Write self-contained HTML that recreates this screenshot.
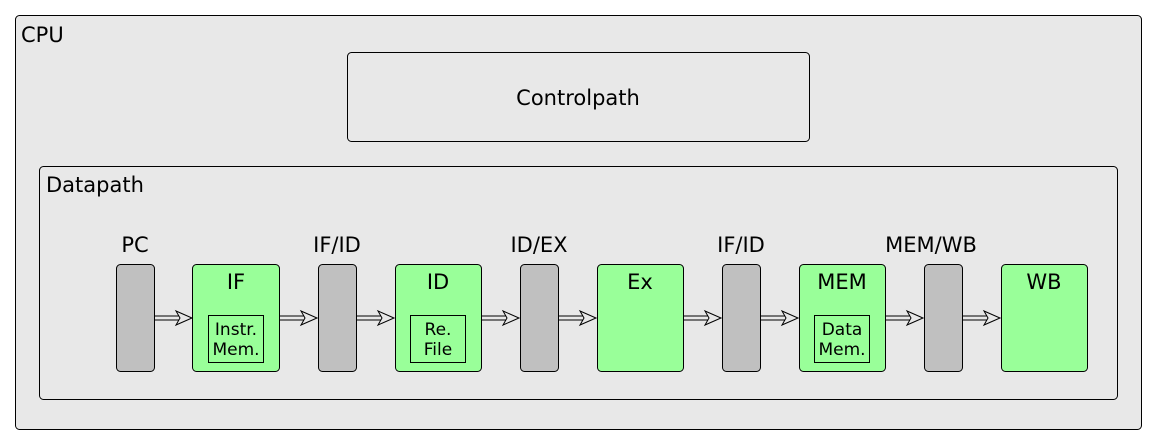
<!DOCTYPE html>
<html><head><meta charset="utf-8"><style>
html,body{margin:0;padding:0;background:#fff;}
svg{display:block;font-family:"DejaVu Sans","Liberation Sans",sans-serif;}
</style></head><body>
<svg width="1159" height="446" viewBox="0 0 1159 446" xmlns="http://www.w3.org/2000/svg">
<rect x="15.5" y="15.5" width="1126" height="414" rx="4" fill="#e8e8e8" stroke="#000"/>
<text x="21" y="42" font-size="21">CPU</text>
<rect x="347.5" y="52.5" width="462" height="89" rx="4" fill="#e8e8e8" stroke="#000"/>
<text x="578" y="105" font-size="21" text-anchor="middle">Controlpath</text>
<rect x="39.5" y="166.5" width="1078" height="233" rx="4" fill="#e8e8e8" stroke="#000"/>
<text x="46" y="192" font-size="21">Datapath</text>
<g font-size="21" text-anchor="middle">
<text x="135" y="252">PC</text>
<text x="337" y="252">IF/ID</text>
<text x="539" y="252">ID/EX</text>
<text x="741" y="252">IF/ID</text>
<text x="931" y="252">MEM/WB</text>
</g>
<g fill="#c0c0c0" stroke="#000">
<rect x="116.5" y="264.5" width="38" height="107" rx="4"/>
<rect x="318.5" y="264.5" width="38" height="107" rx="4"/>
<rect x="520.5" y="264.5" width="38" height="107" rx="4"/>
<rect x="722.5" y="264.5" width="38" height="107" rx="4"/>
<rect x="924.5" y="264.5" width="38" height="107" rx="4"/>
</g>
<g fill="#99ff99" stroke="#000">
<rect x="192.5" y="264.5" width="87" height="107" rx="4"/>
<rect x="395.5" y="264.5" width="86" height="107" rx="4"/>
<rect x="597.5" y="264.5" width="86" height="107" rx="4"/>
<rect x="799.5" y="264.5" width="86" height="107" rx="4"/>
<rect x="1001.5" y="264.5" width="86" height="107" rx="4"/>
</g>
<g font-size="21" text-anchor="middle">
<text x="236" y="289">IF</text>
<text x="438" y="289">ID</text>
<text x="640" y="289">Ex</text>
<text x="842" y="289">MEM</text>
<text x="1044" y="289">WB</text>
</g>
<g fill="none" stroke="#000">
<rect x="208.5" y="315.5" width="55" height="47"/>
<rect x="410.5" y="315.5" width="55" height="47"/>
<rect x="814.5" y="315.5" width="55" height="47"/>
</g>
<g font-size="17" text-anchor="middle">
<text x="236" y="335">Instr.</text><text x="236" y="355">Mem.</text>
<text x="438" y="335">Re.</text><text x="438" y="355">File</text>
<text x="842" y="335">Data</text><text x="842" y="355">Mem.</text>
</g>
<g stroke="#000" fill="#e8e8e8">
<g id="a1">
<line x1="154" y1="316" x2="186" y2="316"/><line x1="154" y1="320" x2="186" y2="320"/>
<polygon points="176,311 192,318 176,325 180,318"/>
</g>
<use href="#a1" x="125"/>
<use href="#a1" x="202"/>
<use href="#a1" x="327"/>
<use href="#a1" x="404"/>
<use href="#a1" x="529"/>
<use href="#a1" x="606"/>
<use href="#a1" x="731"/>
<use href="#a1" x="808"/>
</g>
</svg>
</body></html>
